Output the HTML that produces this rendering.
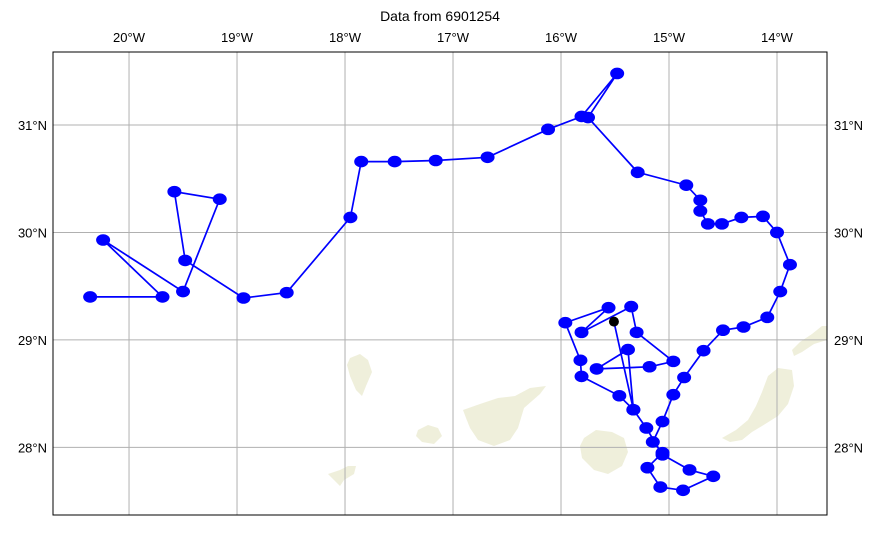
<!DOCTYPE html>
<html><head><meta charset="utf-8"><style>
html,body{margin:0;padding:0;background:#fff;}
svg{display:block;font-family:"Liberation Sans",sans-serif;}
</style></head><body>
<svg id="chart" width="879" height="546">
<text x="440" y="21" text-anchor="middle" font-size="14">Data from 6901254</text>
<g id="land" fill="#efefdb">
<path d="M350,358 L360,354 L368,360 L372,372 L366,386 L362,396 L356,390 L350,376 L347,365Z"/>
<path d="M418,430 L428,425 L438,428 L442,436 L434,444 L422,442 L416,436Z"/>
<path d="M463,410 L480,404 L498,398 L515,396 L530,388 L546,386 L540,394 L524,408 L518,428 L510,440 L494,446 L478,440 L470,428 L466,418Z"/>
<path d="M328,474 L340,470 L348,466 L356,466 L354,474 L344,480 L340,486 L334,480Z"/>
<path d="M584,438 L596,430 L612,432 L624,438 L628,452 L622,466 L608,474 L594,470 L582,458 L580,446Z"/>
<path d="M722,438 L736,430 L748,420 L756,406 L762,392 L768,376 L778,368 L792,370 L794,386 L788,404 L778,416 L762,426 L752,432 L742,440 L730,442Z"/>
<path d="M792,350 L800,342 L812,334 L822,326 L827,326 L827,340 L814,344 L802,352 L794,356Z"/>
</g>
<g id="grid"></g>
<g id="ticks"></g>
<g id="track"></g>
<rect x="53" y="52" width="774" height="463" fill="none" stroke="#000" stroke-width="1"/>
</svg>
<script>
const lonTicks = [-20,-19,-18,-17,-16,-15,-14];
const lonLabels = ["20°W","19°W","18°W","17°W","16°W","15°W","14°W"];
const latTicks = [31,30,29,28];
const latLabels = ["31°N","30°N","29°N","28°N"];
const lons = [-20.36,-19.69,-20.24,-19.50,-19.16,-19.58,-19.48,-18.94,-18.54,-17.95,-17.85,-17.54,-17.16,-16.68,-16.12,-15.81,-15.48,-15.75,-15.29,-14.84,-14.71,-14.71,-14.64,-14.51,-14.33,-14.13,-14.00,-13.88,-13.97,-14.09,-14.31,-14.50,-14.68,-14.86,-14.96,-15.06,-15.15,-15.06,-15.20,-15.08,-14.87,-14.59,-14.81,-15.06,-15.21,-15.33,-15.46,-15.81,-15.82,-15.96,-15.56,-15.81,-15.35,-15.30,-14.96,-15.18,-15.67,-15.38,-15.33,-15.51];
const lats = [29.40,29.40,29.93,29.45,30.31,30.38,29.74,29.39,29.44,30.14,30.66,30.66,30.67,30.70,30.96,31.08,31.48,31.07,30.56,30.44,30.30,30.20,30.08,30.08,30.14,30.15,30.00,29.70,29.45,29.21,29.12,29.09,28.90,28.65,28.49,28.24,28.05,27.95,27.81,27.63,27.60,27.73,27.79,27.93,28.18,28.35,28.48,28.66,28.81,29.16,29.30,29.07,29.31,29.07,28.80,28.75,28.73,28.91,28.35,29.17];
const X0=53,X1=827,Y0=52,Y1=515;
const LON0=-20.704,LON1=-13.537,LAT0=27.37,LAT1=31.68;
const xs=v=>X0+(v-LON0)/(LON1-LON0)*(X1-X0);
const ys=v=>Y1-(v-LAT0)/(LAT1-LAT0)*(Y1-Y0);
const NS="http://www.w3.org/2000/svg";
function mk(t,a,p){const e=document.createElementNS(NS,t);for(const k in a)e.setAttribute(k,a[k]);p.appendChild(e);return e;}
const grid=document.getElementById('grid'),ticks=document.getElementById('ticks'),track=document.getElementById('track');
lonTicks.forEach((v,i)=>{const x=xs(v);
 const l=mk('line',{x1:x,x2:x,y1:Y0,y2:Y1,stroke:'#b0b0b0','stroke-width':1},grid);
 
 
 const t=mk('text',{x:x,y:42,'text-anchor':'middle','font-size':13},ticks);t.textContent=lonLabels[i];
 
 
});
latTicks.forEach((v,i)=>{const y=ys(v);
 const l=mk('line',{x1:X0,x2:X1,y1:y,y2:y,stroke:'#b0b0b0','stroke-width':1},grid);
 
 
 const t=mk('text',{x:47,y:y+5,'text-anchor':'end','font-size':13},ticks);t.textContent=latLabels[i];
 
 
 const t2=mk('text',{x:834,y:y+5,'text-anchor':'start','font-size':13},ticks);t2.textContent=latLabels[i];
 
 
});
const pts=lons.map((v,i)=>xs(v).toFixed(1)+','+ys(lats[i]).toFixed(1)).join(' ');
const pl=mk('polyline',{points:pts,fill:'none',stroke:'#0000ff','stroke-width':1.7},track);


lons.forEach((v,i)=>{const last=i===lons.length-1;
 const c=mk('ellipse',{cx:xs(v),cy:ys(lats[i]),rx:last?5:7,ry:last?5:5.8,fill:last?'#000':'#0000ff'},track);
 
 
});
</script>
</body></html>
